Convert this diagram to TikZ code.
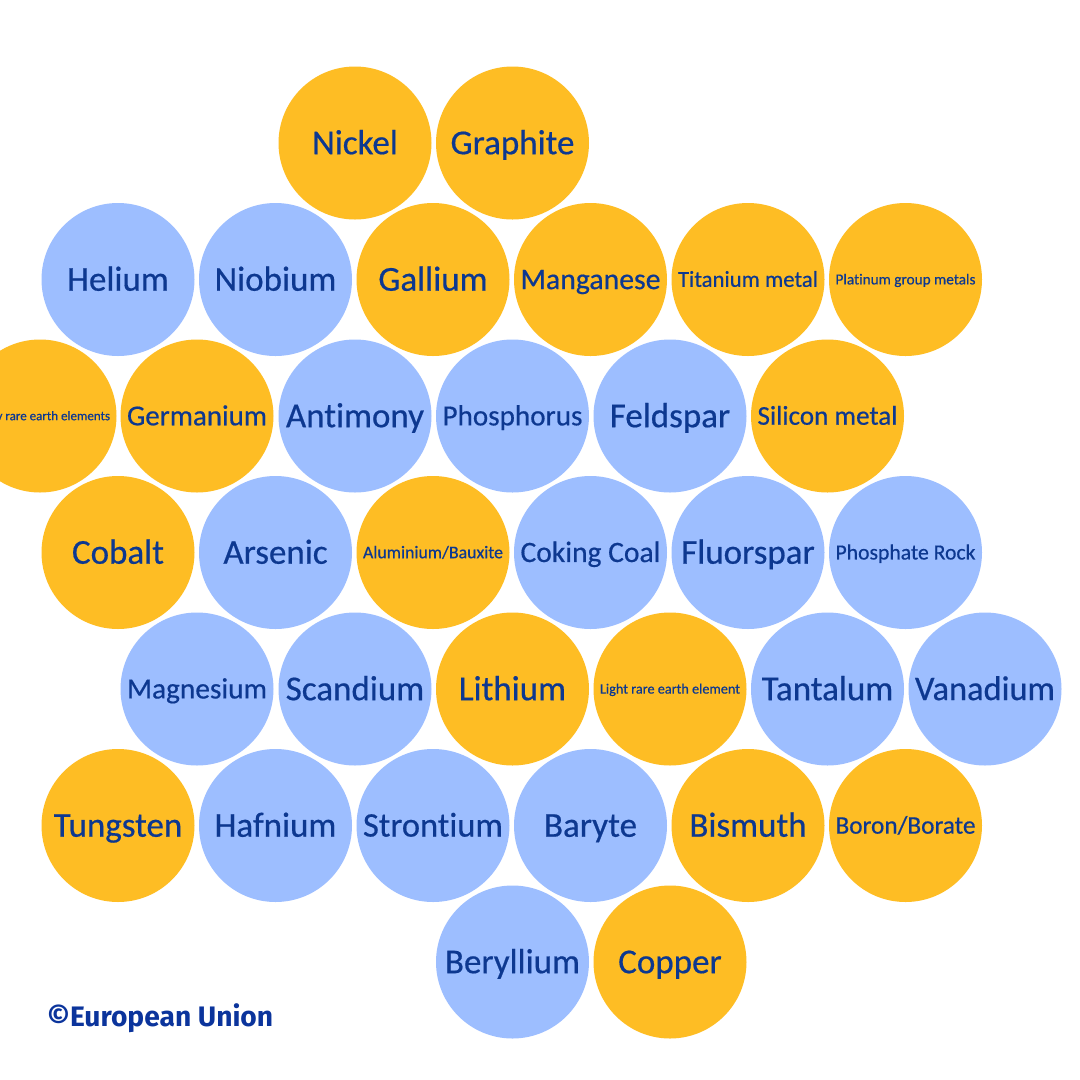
\documentclass[tikz,border=0pt]{standalone}
\usepackage{graphicx}
\usepackage{fontspec}
\setmainfont{Carlito}[Ligatures=NoCommon, UprightFeatures={FakeBold=0.5}]
\newfontfamily\credfont{Fira Sans}
\definecolor{orangec}{HTML}{FEBD24}
\definecolor{bluec}{HTML}{9DBEFF}
\definecolor{textc}{HTML}{0D3890}
\definecolor{credc}{HTML}{0B349C}
\newsavebox\lblbox
\newcommand\fitlabel[1]{%
  \sbox\lblbox{\fontsize{35}{35}\selectfont\smash{#1}\vphantom{H}}%
  \ifdim\wd\lblbox>140pt
    \sbox\lblbox{\resizebox{140pt}{!}{\usebox\lblbox}}%
  \fi
  \usebox\lblbox}
\tikzset{
  mineral/.style={circle, minimum size=153pt, inner sep=0pt},
  orangebub/.style={mineral, fill=orangec},
  bluebub/.style={mineral, fill=bluec},
  lbl/.style={inner sep=0pt, anchor=center, text=textc},
}
\newcommand\bub[5]{% name, style, x, y, text
  \node[#2] (#1) at (#3,#4) {};
  \node[lbl] (#1-t) at (#1.center) {\fitlabel{#5}};
}
\begin{document}
\begin{tikzpicture}[x=1pt,y=-1pt]
\useasboundingbox (0,0) rectangle (1080,1080);
\fill[white] (0,0) rectangle (1080,1080);
\clip (0,0) rectangle (1080,1080);
% row 1
\bub{nickel}{orangebub}{355}{143}{Nickel}
\bub{graphite}{orangebub}{512.5}{143}{Graphite}
% row 2
\bub{helium}{bluebub}{118}{279.5}{Helium}
\bub{niobium}{bluebub}{275.5}{279.5}{Niobium}
\bub{gallium}{orangebub}{433}{279.5}{Gallium}
\bub{manganese}{orangebub}{590.5}{279.5}{Manganese}
\bub{titanium}{orangebub}{748}{279.5}{Titanium metal}
\bub{platinum}{orangebub}{905.5}{279.5}{Platinum group metals}
% row 3
\bub{heavy}{orangebub}{40}{416}{Heavy rare earth elements}
\bub{germanium}{orangebub}{197}{416}{Germanium}
\bub{antimony}{bluebub}{355}{416}{Antimony}
\bub{phosphorus}{bluebub}{512.5}{416}{Phosphorus}
\bub{feldspar}{bluebub}{670}{416}{Feldspar}
\bub{silicon}{orangebub}{827.5}{416}{Silicon metal}
% row 4
\bub{cobalt}{orangebub}{118}{552.5}{Cobalt}
\bub{arsenic}{bluebub}{275.5}{552.5}{Arsenic}
\bub{aluminium}{orangebub}{433}{552.5}{Aluminium/Bauxite}
\bub{coking}{bluebub}{590.5}{552.5}{Coking Coal}
\bub{fluorspar}{bluebub}{748}{552.5}{Fluorspar}
\bub{phosphate}{bluebub}{905.5}{552.5}{Phosphate Rock}
% row 5
\bub{magnesium}{bluebub}{197}{689}{Magnesium}
\bub{scandium}{bluebub}{355}{689}{Scandium}
\bub{lithium}{orangebub}{512.5}{689}{Lithium}
\bub{light}{orangebub}{670}{689}{Light rare earth element}
\bub{tantalum}{bluebub}{827.5}{689}{Tantalum}
\bub{vanadium}{bluebub}{985}{689}{Vanadium}
% row 6
\bub{tungsten}{orangebub}{118}{825.5}{Tungsten}
\bub{hafnium}{bluebub}{275.5}{825.5}{Hafnium}
\bub{strontium}{bluebub}{433}{825.5}{Strontium}
\bub{baryte}{bluebub}{590.5}{825.5}{Baryte}
\bub{bismuth}{orangebub}{748}{825.5}{Bismuth}
\bub{boron}{orangebub}{905.5}{825.5}{Boron/Borate}
% row 7
\bub{beryllium}{bluebub}{512.5}{962}{Beryllium}
\bub{copper}{orangebub}{670}{962}{Copper}
% credit
\node[inner sep=0pt, anchor=west, text=credc] (credit) at (47,1017)
  {\resizebox{226pt}{!}{\credfont\bfseries\fontsize{25}{25}\selectfont\smash{©European Union}\vphantom{E}}};
\end{tikzpicture}
\end{document}
